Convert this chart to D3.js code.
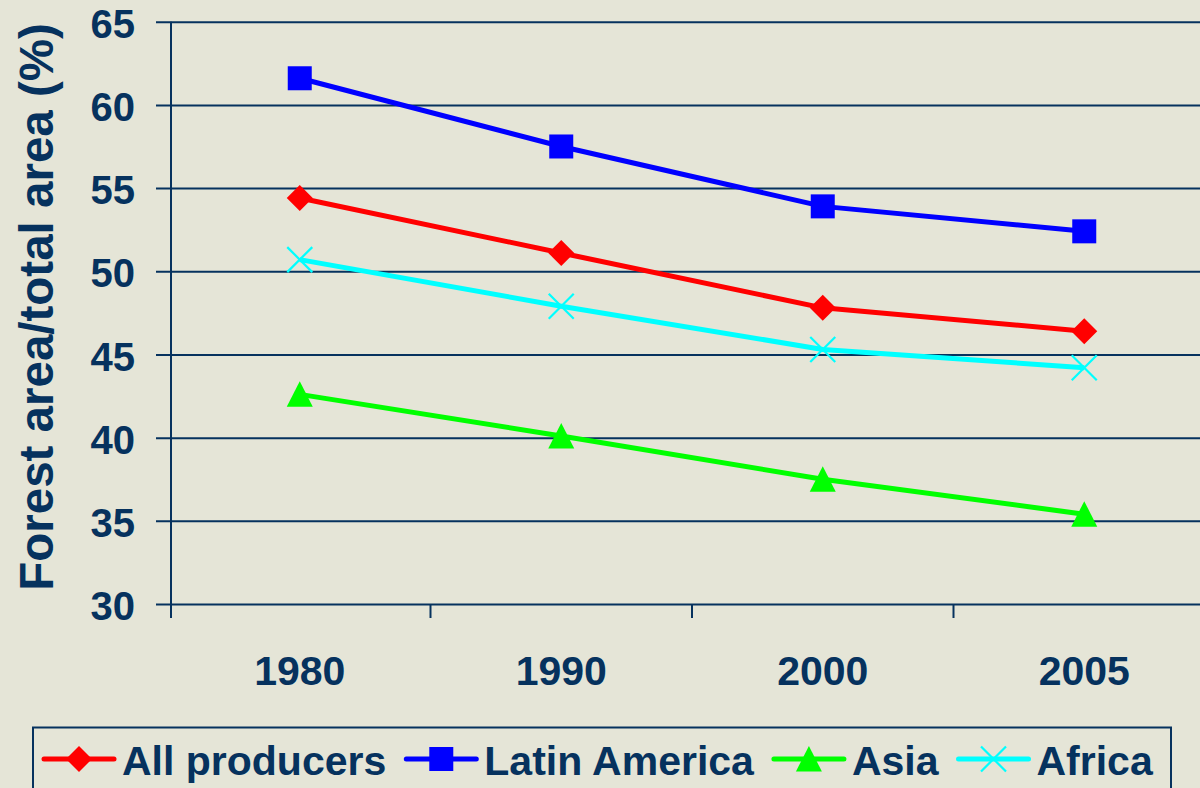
<!DOCTYPE html>
<html>
<head>
<meta charset="utf-8">
<script src="https://cdn.jsdelivr.net/npm/d3@7"></script>
<style>
  html, body { margin: 0; padding: 0; background: #E5E5D7; }
  svg { display: block; }
  text { font-family: "Liberation Sans", Arial, sans-serif; font-weight: bold; fill: #06325E; }
</style>
</head>
<body>
<svg id="chart" width="1200" height="788"></svg>
<script>
// ---- data ----
const years = ["1980", "1990", "2000", "2005"];
const allProducers = [54.4, 51.1, 47.8, 46.4];
const latinAmerica = [61.6, 57.5, 53.9, 52.4];
const asia = [42.6, 40.1, 37.5, 35.4];
const africa = [50.7, 47.9, 45.3, 44.2];
const seriesNames = ["All producers", "Latin America", "Asia", "Africa"];
const yTicks = [30, 35, 40, 45, 50, 55, 60, 65];
const yLabel = "Forest area/total area (%)";

// ---- styling ----
const navy = "#06325E";
const series = [
  { name: seriesNames[0], values: allProducers, color: "#FF0000", marker: "diamond" },
  { name: seriesNames[1], values: latinAmerica, color: "#0000FF", marker: "square" },
  { name: seriesNames[2], values: asia, color: "#00FF00", marker: "triangle" },
  { name: seriesNames[3], values: africa, color: "#00FFFF", marker: "x" }
];

const svg = d3.select("#chart");
svg.append("rect").attr("width", 1200).attr("height", 788).attr("fill", "#E5E5D7");

const plotLeft = 171, plotTop = 21.7, plotBottom = 604;
const x = d3.scaleBand().domain(years).range([169, 1215]).padding(0);
const y = d3.scaleLinear().domain([30, 65]).range([plotBottom, plotTop]);

// y axis with gridlines
const gy = svg.append("g").attr("transform", `translate(${plotLeft},0)`)
  .call(d3.axisLeft(y).tickValues(yTicks).tickSizeInner(-(1200 - plotLeft)).tickSizeOuter(0).tickPadding(36));
gy.select(".domain").remove();
gy.selectAll(".tick line").attr("x1", -15).attr("x2", 1200 - plotLeft)
  .attr("stroke", navy).attr("stroke-width", 2);
gy.selectAll(".tick text").attr("dy", "0.39em")
  .style("font-size", "40px").attr("fill", navy).attr("font-family", null);
// y axis line
svg.append("line").attr("x1", plotLeft).attr("x2", plotLeft)
  .attr("y1", plotTop).attr("y2", plotBottom + 14)
  .attr("stroke", navy).attr("stroke-width", 2);

// x axis labels
const gx = svg.append("g").attr("transform", `translate(0,${plotBottom})`)
  .call(d3.axisBottom(x).tickSize(0).tickPadding(0));
gx.select(".domain").remove();
gx.selectAll(".tick text").attr("y", 81).attr("dy", 0)
  .style("font-size", "41px").attr("fill", navy).attr("font-family", null);
// x category boundary ticks
svg.append("g").selectAll("line").data(years.slice(0, -1)).join("line")
  .attr("x1", d => x(d) + x.bandwidth()).attr("x2", d => x(d) + x.bandwidth())
  .attr("y1", plotBottom).attr("y2", plotBottom + 14)
  .attr("stroke", navy).attr("stroke-width", 2);

// y axis title
svg.append("text")
  .attr("transform", `translate(53,${(22 + 592) / 2}) rotate(-90)`)
  .attr("text-anchor", "middle")
  .style("font-size", "47.5px")
  .text(yLabel);

function drawMarker(g, type, color) {
  if (type === "square") {
    g.append("rect").attr("x", -12).attr("y", -12).attr("width", 24).attr("height", 24).attr("fill", color);
  } else if (type === "diamond") {
    g.append("path").attr("d", "M0,-13 L13,0 L0,13 L-13,0 Z").attr("fill", color);
  } else if (type === "triangle") {
    g.append("path").attr("d", "M0,-13 L13,12.5 L-13,12.5 Z").attr("fill", color);
  } else if (type === "x") {
    g.append("path").attr("d", "M-12.5,-12.5 L12.5,12.5 M-12.5,12.5 L12.5,-12.5")
      .attr("stroke", color).attr("stroke-width", 2.2).attr("fill", "none");
  }
}

const line = d3.line().x((d, i) => x(years[i]) + x.bandwidth() / 2).y(d => y(d));

series.forEach(s => {
  const g = svg.append("g");
  g.append("path").attr("d", line(s.values)).attr("fill", "none")
    .attr("stroke", s.color).attr("stroke-width", 5).attr("stroke-linejoin", "round");
  s.values.forEach((v, i) => {
    const m = g.append("g").attr("transform", `translate(${x(years[i]) + x.bandwidth() / 2},${y(v)})`);
    drawMarker(m, s.marker, s.color);
  });
});

// legend
const legend = svg.append("g");
legend.append("rect").attr("x", 33).attr("y", 727.5).attr("width", 1138).attr("height", 100)
  .attr("fill", "none").attr("stroke", navy).attr("stroke-width", 2);
let lx = 44;
const ly = 759;
series.forEach(s => {
  const item = legend.append("g");
  item.append("line").attr("x1", lx).attr("x2", lx + 70).attr("y1", ly).attr("y2", ly)
    .attr("stroke", s.color).attr("stroke-width", 5).attr("stroke-linecap", "round");
  const m = item.append("g").attr("transform", `translate(${lx + 35},${ly})`);
  drawMarker(m, s.marker, s.color);
  const t = item.append("text").attr("x", lx + 78).attr("y", 775)
    .style("font-size", "41px").text(s.name);
  lx = lx + 78 + t.node().getComputedTextLength() + 20;
});
</script>
</body>
</html>
